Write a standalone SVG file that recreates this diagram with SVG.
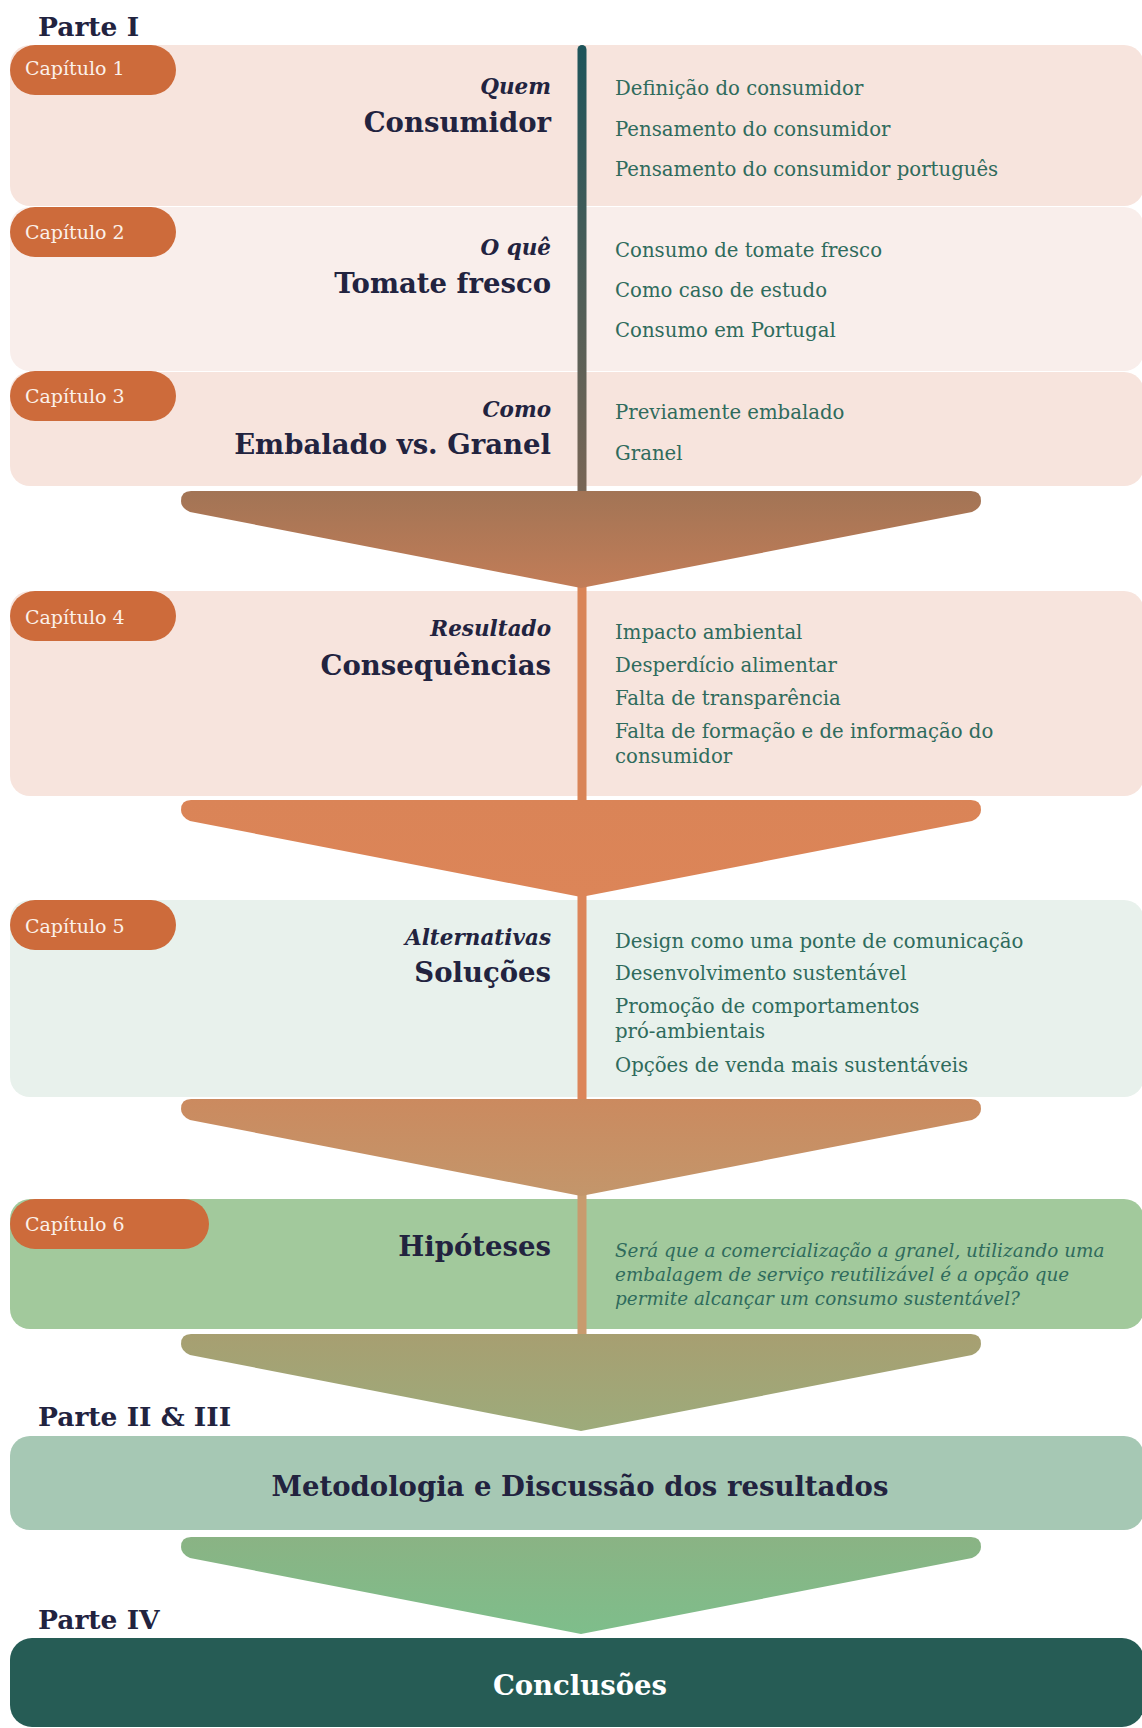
<svg xmlns="http://www.w3.org/2000/svg" width="1142" height="1728" viewBox="0 0 1142 1728">
  <defs>
    <style>
      .part { font-family: "DejaVu Serif", "Liberation Serif", serif; font-weight: bold; font-size: 26.5px; fill: #22233f; }
      .pill { fill: #cd6b3b; }
      .pilltx { font-family: "DejaVu Serif", "Liberation Serif", serif; font-size: 19px; fill: #fbf1ea; }
      .sub { font-family: "DejaVu Serif", "Liberation Serif", serif; font-weight: bold; font-style: italic; font-size: 21.5px; fill: #22233f; text-anchor: end; }
      .ttl { font-family: "DejaVu Serif", "Liberation Serif", serif; font-weight: bold; font-size: 27.5px; fill: #22233f; text-anchor: end; }
      .item { font-family: "DejaVu Serif", "Liberation Serif", serif; font-size: 19.7px; fill: #2f6b5c; }
      .hyp { font-family: "DejaVu Serif", "Liberation Serif", serif; font-style: italic; font-size: 18.4px; fill: #2f6b5c; }
      .big { font-family: "DejaVu Serif", "Liberation Serif", serif; font-weight: bold; font-size: 27.5px; text-anchor: middle; }
    </style>
    <linearGradient id="spine1" x1="0" y1="0" x2="0" y2="1">
      <stop offset="0" stop-color="#1d545a"/>
      <stop offset="1" stop-color="#7b6655"/>
    </linearGradient>
    <linearGradient id="f1" x1="0" y1="0" x2="0" y2="1">
      <stop offset="0" stop-color="#a27455"/>
      <stop offset="1" stop-color="#c27d58"/>
    </linearGradient>
    <linearGradient id="f2" x1="0" y1="0" x2="0" y2="1">
      <stop offset="0" stop-color="#da8457"/>
      <stop offset="1" stop-color="#dc8558"/>
    </linearGradient>
    <linearGradient id="f3" x1="0" y1="0" x2="0" y2="1">
      <stop offset="0" stop-color="#cb8a5f"/>
      <stop offset="1" stop-color="#c3966b"/>
    </linearGradient>
    <linearGradient id="f4" x1="0" y1="0" x2="0" y2="1">
      <stop offset="0" stop-color="#a79f71"/>
      <stop offset="1" stop-color="#9dab7b"/>
    </linearGradient>
    <linearGradient id="f5" x1="0" y1="0" x2="0" y2="1">
      <stop offset="0" stop-color="#8ab384"/>
      <stop offset="1" stop-color="#7ebe8b"/>
    </linearGradient>
    <!-- funnel: rounded bar narrowing to a point, 97px tall -->
    <path id="funnel" d="M 191 0 H 971 Q 981 0 981 10 Q 981 17 972 21 L 581 97 L 190 21 Q 181 17 181 10 Q 181 0 191 0 Z"/>
  </defs>

  <rect width="1142" height="1728" fill="#ffffff"/>

  <!-- section boxes -->
  <g id="ch1">
    <rect x="10" y="45" width="1134" height="161" rx="20" fill="#f7e4dd"/>
    <rect class="pill" x="10" y="45" width="166" height="50" rx="25"/>
    <text class="pilltx" x="25" y="75">Capítulo 1</text>
    <text class="sub" x="551" y="94">Quem</text>
    <text class="ttl" x="551" y="132">Consumidor</text>
    <text class="item" x="615" y="95">Definição do consumidor</text>
    <text class="item" x="615" y="136">Pensamento do consumidor</text>
    <text class="item" x="615" y="176">Pensamento do consumidor português</text>
  </g>
  <g id="ch2">
    <rect x="10" y="207" width="1134" height="164" rx="20" fill="#f9eeeb"/>
    <rect class="pill" x="10" y="207" width="166" height="50" rx="25"/>
    <text class="pilltx" x="25" y="239">Capítulo 2</text>
    <text class="sub" x="551" y="255">O quê</text>
    <text class="ttl" x="551" y="293">Tomate fresco</text>
    <text class="item" x="615" y="257">Consumo de tomate fresco</text>
    <text class="item" x="615" y="297">Como caso de estudo</text>
    <text class="item" x="615" y="337">Consumo em Portugal</text>
  </g>
  <g id="ch3">
    <rect x="10" y="372" width="1134" height="114" rx="20" fill="#f7e4dd"/>
    <rect class="pill" x="10" y="371" width="166" height="50" rx="25"/>
    <text class="pilltx" x="25" y="403">Capítulo 3</text>
    <text class="sub" x="551" y="417">Como</text>
    <text class="ttl" x="551" y="454">Embalado vs. Granel</text>
    <text class="item" x="615" y="419">Previamente embalado</text>
    <text class="item" x="615" y="460">Granel</text>
  </g>
  <g id="ch4">
    <rect x="10" y="591" width="1134" height="205" rx="20" fill="#f7e4dd"/>
    <rect class="pill" x="10" y="591" width="166" height="50" rx="25"/>
    <text class="pilltx" x="25" y="624">Capítulo 4</text>
    <text class="sub" x="551" y="636">Resultado</text>
    <text class="ttl" x="551" y="675">Consequências</text>
    <text class="item" x="615" y="639">Impacto ambiental</text>
    <text class="item" x="615" y="672">Desperdício alimentar</text>
    <text class="item" x="615" y="705">Falta de transparência</text>
    <text class="item" x="615" y="738">Falta de formação e de informação do</text>
    <text class="item" x="615" y="763">consumidor</text>
  </g>
  <g id="ch5">
    <rect x="10" y="900" width="1134" height="197" rx="20" fill="#e8f1ec"/>
    <rect class="pill" x="10" y="900" width="166" height="50" rx="25"/>
    <text class="pilltx" x="25" y="933">Capítulo 5</text>
    <text class="sub" x="551" y="945">Alternativas</text>
    <text class="ttl" x="551" y="982">Soluções</text>
    <text class="item" x="615" y="948">Design como uma ponte de comunicação</text>
    <text class="item" x="615" y="980">Desenvolvimento sustentável</text>
    <text class="item" x="615" y="1013">Promoção de comportamentos</text>
    <text class="item" x="615" y="1038">pró-ambientais</text>
    <text class="item" x="615" y="1072">Opções de venda mais sustentáveis</text>
  </g>
  <g id="ch6">
    <rect x="10" y="1199" width="1134" height="130" rx="20" fill="#a2c99c"/>
    <rect class="pill" x="10" y="1199" width="199" height="50" rx="25"/>
    <text class="pilltx" x="25" y="1231">Capítulo 6</text>
    <text class="ttl" x="551" y="1256">Hipóteses</text>
    <text class="hyp" x="615" y="1257">Será que a comercialização a granel, utilizando uma</text>
    <text class="hyp" x="615" y="1281">embalagem de serviço reutilizável é a opção que</text>
    <text class="hyp" x="615" y="1305">permite alcançar um consumo sustentável?</text>
  </g>

  <!-- connectors: central spine and funnels -->
  <g id="connectors">
    <rect x="577.5" y="45" width="9" height="460" rx="4.5" fill="url(#spine1)"/>
    <rect x="577.5" y="580" width="9" height="230" fill="#d98457"/>
    <rect x="577.5" y="890" width="9" height="215" fill="#dc8559"/>
    <rect x="577.5" y="1190" width="9" height="155" fill="#c89b6e"/>
    <use href="#funnel" x="0" y="491" fill="url(#f1)"/>
    <use href="#funnel" x="0" y="800" fill="url(#f2)"/>
    <use href="#funnel" x="0" y="1099" fill="url(#f3)"/>
    <use href="#funnel" x="0" y="1334" fill="url(#f4)"/>
    <use href="#funnel" x="0" y="1537" fill="url(#f5)"/>
  </g>

  <!-- part headings -->
  <text class="part" x="38" y="36">Parte I</text>
  <text class="part" x="38" y="1426">Parte II &amp; III</text>
  <text class="part" x="38" y="1629">Parte IV</text>

  <g id="metodologia">
    <rect x="10" y="1436" width="1134" height="94" rx="20" fill="#a6c8b4"/>
    <text class="big" x="580" y="1496" fill="#22233f">Metodologia e Discussão dos resultados</text>
  </g>
  <g id="conclusoes">
    <rect x="10" y="1638" width="1134" height="89" rx="22" fill="#265c55"/>
    <text class="big" x="580" y="1695" fill="#ffffff">Conclusões</text>
  </g>
</svg>
